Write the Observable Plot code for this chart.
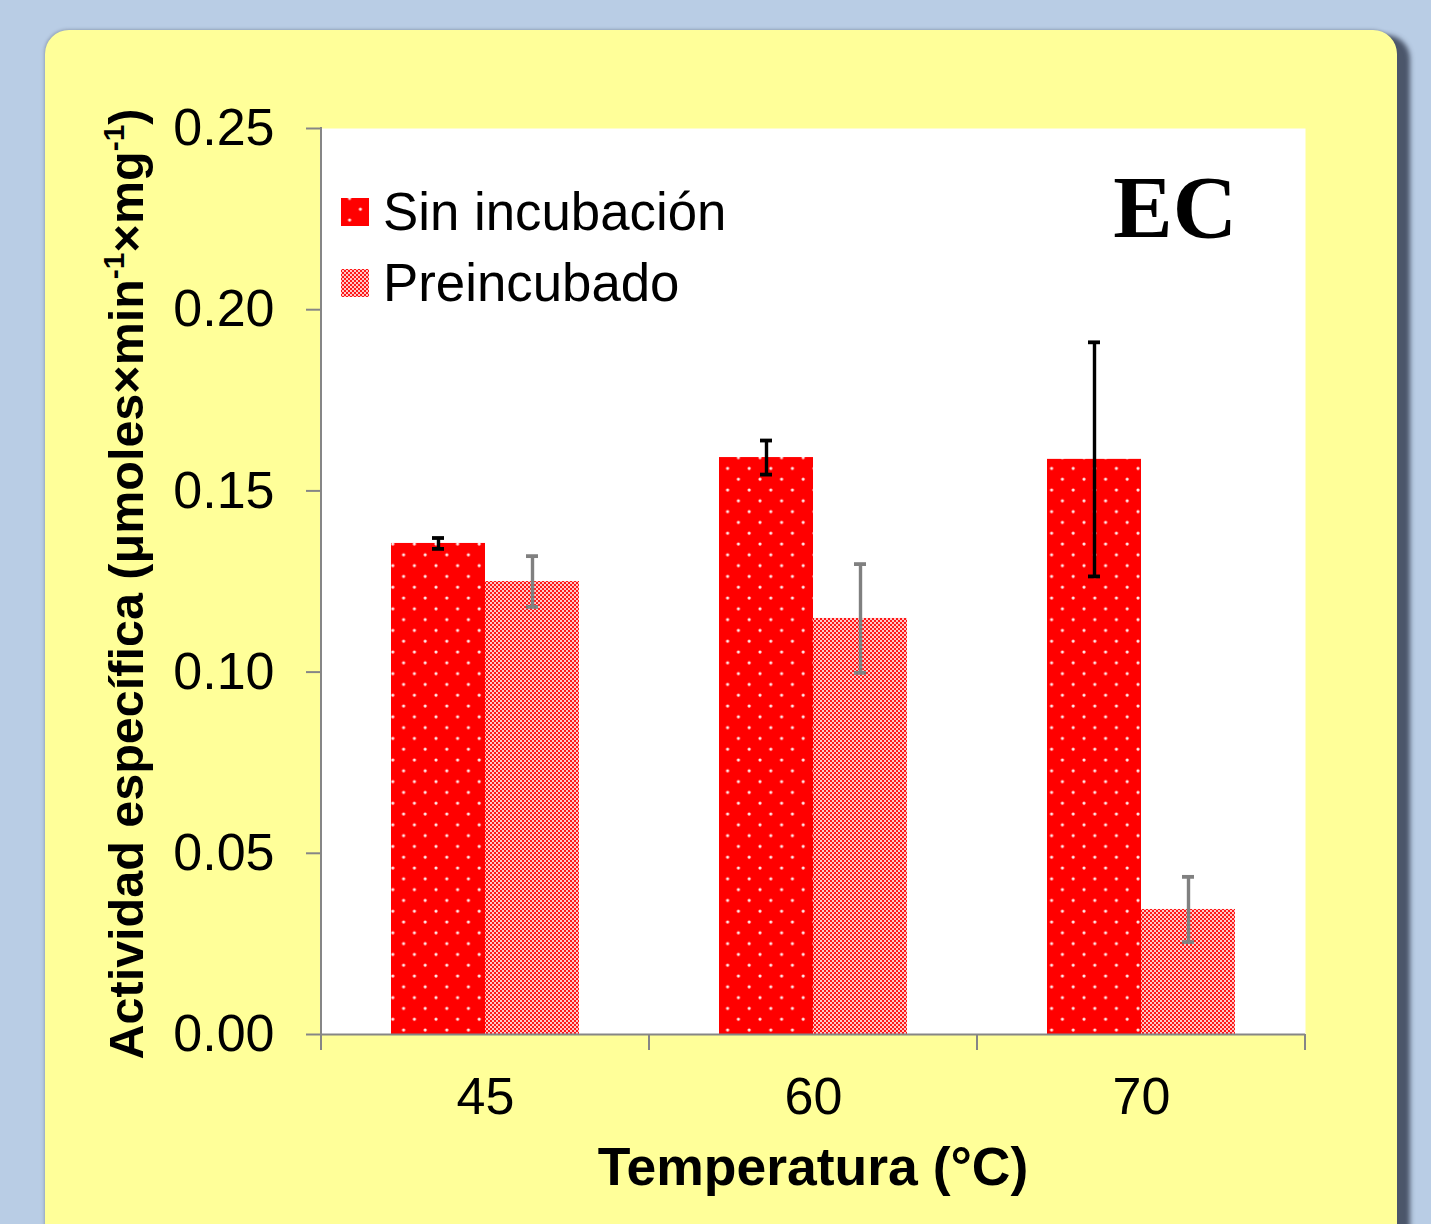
<!DOCTYPE html>
<html>
<head>
<meta charset="utf-8">
<script src="https://cdn.jsdelivr.net/npm/d3@7"></script>
<script src="https://cdn.jsdelivr.net/npm/@observablehq/plot@0.6"></script>
<style>
  html, body { margin: 0; padding: 0; }
  body { width: 1431px; height: 1224px; background: #b9cde5; position: relative; overflow: hidden; }
  #panel { position: absolute; left: 45px; top: 30px; width: 1352px; height: 1240px;
           background: #ffff99; border-radius: 24px;
           box-shadow: 13px 5px 5px rgba(55, 65, 85, 0.85), -1px -1px 3px rgba(80,90,110,0.35); }
  #chart { position: absolute; left: 0; top: 0; }
</style>
</head>
<body>
<div id="panel"></div>
<div id="chart"></div>
<script>
// ---- data ----
const temps = ["45", "60", "70"];
const seriesNames = ["Sin incubación", "Preincubado"];
const sinVals = [0.1355, 0.1592, 0.1587];
const sinErr  = [0.0015, 0.0047, 0.0323];
const preVals = [0.125, 0.1148, 0.0345];
const preErr  = [0.007, 0.015, 0.009];
const yTicks  = [0, 0.05, 0.10, 0.15, 0.20, 0.25];
const xTitle = "Temperatura (°C)";
const panelLabel = "EC";

const sinData = temps.map((t, i) => ({temp: t, value: sinVals[i], lo: sinVals[i] - sinErr[i], hi: sinVals[i] + sinErr[i]}));
const preData = temps.map((t, i) => ({temp: t, value: preVals[i], lo: preVals[i] - preErr[i], hi: preVals[i] + preErr[i]}));

// ---- layout ----
const W = 1431, H = 1224;
const mL = 321, mR = 126, mT = 128, mB = 190;
const band = (W - mL - mR) / temps.length;   // 328
const outer = 70, barW = 94;                 // bar placement within band
const capHalf = 6;
const sinCenter = outer + barW / 2;          // from band start
const preCenter = outer + barW + barW / 2;

const axisGray = "#868686";

const axisLines = (index, scales, values, dim) => {
  const g = d3.create("svg:g").attr("stroke", axisGray).attr("stroke-width", 2).attr("fill", "none");
  const x0 = dim.marginLeft, x1 = dim.width - dim.marginRight, yb = dim.height - dim.marginBottom;
  g.append("line").attr("x1", x0).attr("x2", x0).attr("y1", dim.marginTop - 1).attr("y2", yb);
  const bounds = temps.map(t => scales.x(t)).concat([x1]);
  for (const b of bounds) g.append("line").attr("x1", b).attr("x2", b).attr("y1", yb).attr("y2", yb + 16);
  return g.node();
};

const svg = Plot.plot({
  width: W, height: H,
  marginLeft: mL, marginRight: mR, marginTop: mT, marginBottom: mB,
  style: {background: "transparent", fontFamily: "'Liberation Sans', Arial, sans-serif", fontSize: "52px", color: "black", overflow: "visible"},
  x: {type: "band", domain: temps, padding: 0},
  y: {domain: [0, 0.25]},
  marks: [
    Plot.frame({fill: "white", stroke: "none"}),
    Plot.barY(sinData, {x: "temp", y: "value", fill: "url(#sinPat)", insetLeft: outer, insetRight: band - outer - barW}),
    Plot.barY(preData, {x: "temp", y: "value", fill: "url(#prePat)", insetLeft: outer + barW, insetRight: band - outer - 2 * barW}),
    Plot.ruleX(sinData, {x: "temp", y1: "lo", y2: "hi", dx: sinCenter - band / 2, stroke: "black", strokeWidth: 3.4}),
    Plot.tickY(sinData, {x: "temp", y: "lo", insetLeft: sinCenter - capHalf, insetRight: band - sinCenter - capHalf, stroke: "black", strokeWidth: 3.8}),
    Plot.tickY(sinData, {x: "temp", y: "hi", insetLeft: sinCenter - capHalf, insetRight: band - sinCenter - capHalf, stroke: "black", strokeWidth: 3.8}),
    Plot.ruleX(preData, {x: "temp", y1: "lo", y2: "hi", dx: preCenter - band / 2, stroke: "#808080", strokeWidth: 3.4}),
    Plot.tickY(preData, {x: "temp", y: "lo", insetLeft: preCenter - capHalf, insetRight: band - preCenter - capHalf, stroke: "#808080", strokeWidth: 3.8}),
    Plot.tickY(preData, {x: "temp", y: "hi", insetLeft: preCenter - capHalf, insetRight: band - preCenter - capHalf, stroke: "#808080", strokeWidth: 3.8}),
    Plot.ruleY([0], {stroke: axisGray, strokeWidth: 2}),
    axisLines,
    Plot.axisY({ticks: yTicks, tickFormat: d3.format(".2f"), tickSize: 15, tickPadding: 32, stroke: axisGray, strokeWidth: 2, fill: "black", label: null}),
    Plot.axisX({tickSize: 0, tickPadding: 43, fill: "black", label: null})
  ]
});

const s = d3.select(svg);
// patterns
const defs = s.insert("defs", ":first-child");
const sp = defs.append("pattern").attr("id", "sinPat").attr("patternUnits", "userSpaceOnUse")
  .attr("width", 21.6).attr("height", 21.6).attr("x", 0).attr("y", 0);
sp.append("rect").attr("width", 21.6).attr("height", 21.6).attr("fill", "#ff0000");
sp.append("circle").attr("cx", 4).attr("cy", 4).attr("r", 1.6).attr("fill", "#ffeaea");
sp.append("circle").attr("cx", 14.8).attr("cy", 14.8).attr("r", 1.6).attr("fill", "#ffeaea");
const pp = defs.append("pattern").attr("id", "prePat").attr("patternUnits", "userSpaceOnUse")
  .attr("width", 4).attr("height", 4);
pp.append("rect").attr("width", 4).attr("height", 4).attr("fill", "#ff1818");
pp.append("rect").attr("x", 0).attr("y", 0).attr("width", 2).attr("height", 2).attr("fill", "#ffc8c8");
pp.append("rect").attr("x", 2).attr("y", 2).attr("width", 2).attr("height", 2).attr("fill", "#ffc8c8");

// x title
s.append("text").attr("x", mL + (W - mL - mR) / 2).attr("y", 1185).attr("text-anchor", "middle")
  .attr("font-weight", "bold").attr("font-size", 53.5).attr("fill", "black").text(xTitle);

// y title with superscripts
const yt = s.append("text").attr("transform", `translate(143, ${584}) rotate(-90)`).attr("text-anchor", "middle")
  .attr("font-weight", "bold").attr("font-size", 48.5).attr("fill", "black");
yt.append("tspan").text("Actividad específica (μmoles×min");
yt.append("tspan").attr("font-size", 30).attr("dy", -19).text("-1");
yt.append("tspan").attr("dy", 19).text("×mg");
yt.append("tspan").attr("font-size", 30).attr("dy", -19).text("-1");
yt.append("tspan").attr("dy", 19).text(")");

// legend
const lg = s.append("g").attr("text-anchor", "start");
[["url(#sinPat)", 198, 230], ["url(#prePat)", 269, 301]].forEach(([f, y, by], i) => {
  lg.append("rect").attr("x", 341).attr("y", y).attr("width", 28).attr("height", 28).attr("fill", f);
  lg.append("text").attr("x", 383).attr("y", by).attr("text-anchor", "start").attr("font-size", 52.8).attr("fill", "black").text(seriesNames[i]);
});

// panel label
s.append("text").attr("x", 1237).attr("y", 237).attr("text-anchor", "end")
  .attr("font-family", "'Liberation Serif', 'Times New Roman', serif").attr("font-weight", "bold")
  .attr("font-size", 89).attr("fill", "black").text(panelLabel);

document.getElementById("chart").appendChild(svg);
</script>
</body>
</html>
